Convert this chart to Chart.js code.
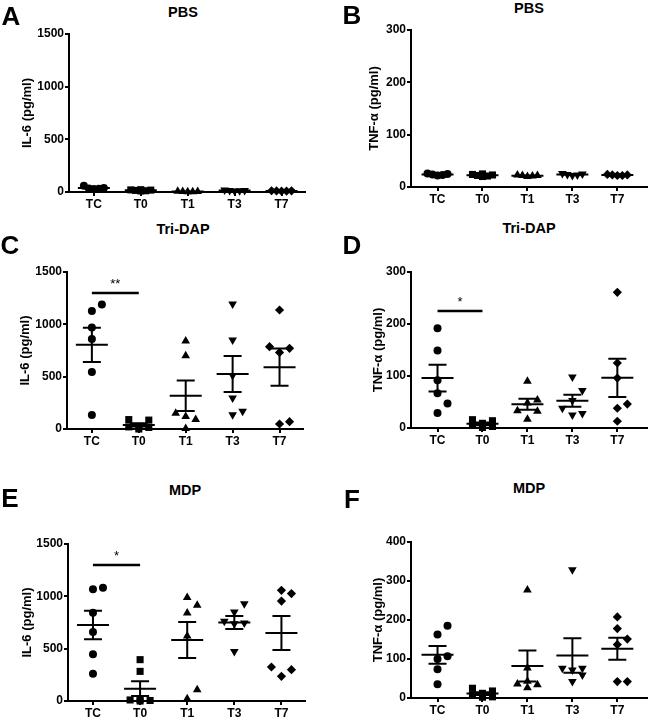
<!DOCTYPE html>
<html><head><meta charset="utf-8">
<script src="https://cdn.jsdelivr.net/npm/chart.js@4.4.1/dist/chart.umd.min.js"></script>
<style>
html,body{margin:0;padding:0;background:#fff;overflow:hidden;width:652px;height:718px;}
canvas{position:absolute;}
.lbl{position:absolute;font-family:"Liberation Sans",Arial,sans-serif;font-weight:bold;color:#000;transform:translate(-50%,-50%);line-height:1;white-space:nowrap;z-index:2;}
</style></head><body>
<script>
// ---------------- DATA ----------------
const categories = ['TC', 'T0', 'T1', 'T3', 'T7'];

// IL-6 (pg/ml), PBS  — one sub-array per category (TC, T0, T1, T3, T7)
const il6PBS = [[28, 34, 38, 30, 60], [20, 15, 18, 10, 22, 12], [5, 3, 6, 4, 2], [12, 15, 10, 18, 14], [10, 12, 8, 11, 9]];
// TNF-α (pg/ml), PBS
const tnfPBS = [[22, 23, 25, 24, 26], [20, 24, 25, 22, 23, 21], [21, 22, 20, 23, 22], [23, 24, 25, 22, 26], [22, 23, 22, 24, 23]];
// IL-6, Tri-DAP
const il6TriDAP = [[1190, 1127, 970, 860, 545, 134], [90, 85, 25, 20, 15, 0], [840, 700, 150, 120, 90, 5], [1195, 850, 295, 135, 170, 510], [1137, 771, 787, 732, 48, 70]];
// TNF-α, Tri-DAP
const tnfTriDAP = [[192, 149, 92, 67, 29, 47], [16, 14, 9, 5, 3, 1], [90, 54, 48, 32, 33, 17], [98, 72, 53, 38, 25, 28], [261, 125, 96, 46, 38, 13]];
// IL-6, MDP
const il6MDP = [[1067, 1083, 844, 659, 446, 261], [395, 283, 15, 10, 5, 0], [990, 914, 841, 621, 108, 22], [930, 850, 761, 745, 739, 474], [1026, 1057, 955, 325, 299, 236]];
// TNF-α, MDP
const tnfMDP = [[185, 163, 100, 107, 74, 35], [25, 18, 12, 8, 3, 2], [277, 77, 43, 36, 34, 26], [329, 76, 72, 76, 59, 42], [208, 178, 151, 137, 42, 42]];

// tick labels
const il6Ticks = [0, 500, 1000, 1500];
const tnfTicks = [0, 100, 200, 300];
const tnfMdpTicks = [0, 100, 200, 300, 400];

// significance brackets (between category indices, at a value, with label)
const sigC = { from: 0, to: 1, value: 1300, label: '**' };
const sigD = { from: 0, to: 1, value: 225, label: '*' };
const sigE = { from: 0, to: 1, value: 1300, label: '*' };

// ---------------- LAYOUT / STYLE ----------------
const FONT = '"Liberation Sans", Arial, sans-serif';
const pointStyles = ['circle', 'rect', 'triangle', 'triangle', 'rectRot'];
const pointRots = [0, 0, 0, 180, 0];
const pointRadii = [4, 5, 5, 5, 4.6];

const panels = [
  { letter: 'A', title: 'PBS', data: il6PBS, ticks: il6Ticks, yTitle: 'IL-6 (pg/ml)', col: 0, L: 69, R: 305, T: 34, B: 192, tX: 27, spacing: 5, steps: 2, sig: null, titlePos: [183, 12], letterPos: [11, 16] },
  { letter: 'B', title: 'PBS', data: tnfPBS, ticks: tnfTicks, yTitle: 'TNF-α (pg/ml)', col: 1, L: 411, R: 651, T: 30, B: 187, tX: 48, spacing: 5, steps: 2, sig: null, titlePos: [529, 8], letterPos: [352, 15] },
  { letter: 'C', title: 'Tri-DAP', data: il6TriDAP, ticks: il6Ticks, yTitle: 'IL-6 (pg/ml)', col: 0, L: 67, R: 303, T: 272, B: 429, tX: 25, spacing: 10, steps: 1, sig: sigC, titlePos: [183, 229], letterPos: [10, 245] },
  { letter: 'D', title: 'Tri-DAP', data: tnfTriDAP, ticks: tnfTicks, yTitle: 'TNF-α (pg/ml)', col: 1, L: 411, R: 651, T: 272, B: 428, tX: 52, spacing: 10, steps: 1, sig: sigD, titlePos: [529, 228], letterPos: [352, 245] },
  { letter: 'E', title: 'MDP', data: il6MDP, ticks: il6Ticks, yTitle: 'IL-6 (pg/ml)', col: 0, L: 68, R: 305, T: 544, B: 701, tX: 27, spacing: 10, steps: 1, sig: sigE, titlePos: [185, 490], letterPos: [10, 498] },
  { letter: 'F', title: 'MDP', data: tnfMDP, ticks: tnfMdpTicks, yTitle: 'TNF-α (pg/ml)', col: 1, L: 411, R: 651, T: 542, B: 698, tX: 52, spacing: 10, steps: 1, sig: null, titlePos: [529, 488], letterPos: [352, 499] }
];

function mean(a) { return a.reduce((s, v) => s + v, 0) / a.length; }
function sem(a) {
  const m = mean(a);
  const sd = Math.sqrt(a.reduce((s, v) => s + (v - m) * (v - m), 0) / (a.length - 1));
  return sd / Math.sqrt(a.length);
}

const statsPlugin = {
  id: 'stats',
  afterDatasetsDraw(chart, args, opts) {
    const { ctx } = chart;
    const xs = chart.scales.x, ys = chart.scales.y;
    ctx.save();
    ctx.strokeStyle = '#000';
    ctx.fillStyle = '#000';
    ctx.lineWidth = 2;
    opts.groups.forEach((vals, i) => {
      const m = mean(vals), se = sem(vals);
      const cx = xs.getPixelForValue(i);
      const ym = ys.getPixelForValue(m);
      const yt = ys.getPixelForValue(m + se);
      const yb = ys.getPixelForValue(Math.max(m - se, ys.min));
      ctx.beginPath();
      ctx.moveTo(cx - 16, ym); ctx.lineTo(cx + 16, ym);
      ctx.moveTo(cx, yt); ctx.lineTo(cx, yb);
      ctx.moveTo(cx - 9, yt); ctx.lineTo(cx + 9, yt);
      ctx.moveTo(cx - 9, yb); ctx.lineTo(cx + 9, yb);
      ctx.stroke();
    });
    const s = opts.sig;
    if (s) {
      const x1 = xs.getPixelForValue(s.from), x2 = xs.getPixelForValue(s.to);
      const yy = ys.getPixelForValue(s.value);
      ctx.lineWidth = 2.5;
      ctx.beginPath(); ctx.moveTo(x1, yy); ctx.lineTo(x2, yy); ctx.stroke();
      ctx.font = '13px ' + FONT;
      ctx.textAlign = 'center';
      ctx.textBaseline = 'middle';
      ctx.fillText(s.label, (x1 + x2) / 2, yy - 9);
    }
    ctx.restore();
  }
};

// scatter-dot "swarm": points close in value are set side by side (limited width)
function swarmOffsets(values, ys, pxPerX, spacing, steps) {
  const order = values.map((v, i) => i).sort((a, b) => values[a] - values[b]);
  const cands = [0];
  for (let k = 1; k <= steps; k++) { cands.push(k * spacing, -k * spacing); }
  const placed = [];
  const offs = new Array(values.length).fill(0);
  for (const idx of order) {
    const py = ys.getPixelForValue(values[idx]);
    let best = null, bestD = -1;
    for (const c of cands) {
      const d = placed.length ? Math.min(...placed.map(p => Math.hypot(p.px - c, p.py - py))) : Infinity;
      if (d >= spacing * 0.999) { best = c; break; }
      if (d > bestD + 0.5) { bestD = d; best = c; }
    }
    placed.push({ px: best, py });
    offs[idx] = best / pxPerX;
  }
  return offs;
}

panels.forEach(p => {
  const cLeft = p.col * 326, cW = 326;
  const topPad = 14, xH = 18;
  const cTop = p.T - topPad;
  const cH = (p.B - p.T) + topPad + xH;
  const cv = document.createElement('canvas');
  cv.style.left = cLeft + 'px'; cv.style.top = cTop + 'px';
  cv.style.width = cW + 'px'; cv.style.height = cH + 'px';
  cv.width = cW; cv.height = cH;
  document.body.appendChild(cv);

  const xmin = p.col === 0 ? -0.53 : -0.59;
  const xmax = p.col === 0 ? 4.5 : 4.66;
  const yTicks = p.ticks;

  const datasets = p.data.map((vals, i) => ({
    label: categories[i],
    data: vals.map(v => ({ x: i, y: v })),
    pointStyle: pointStyles[i],
    rotation: pointRots[i],
    pointRotation: pointRots[i],
    pointRadius: pointRadii[i],
    pointHoverRadius: pointRadii[i],
    backgroundColor: '#000',
    borderColor: '#000',
    borderWidth: 0,
    clip: false
  }));

  const chart = new Chart(cv, {
    type: 'scatter',
    data: { datasets },
    plugins: [statsPlugin],
    options: {
      responsive: false,
      animation: false,
      devicePixelRatio: 1,
      layout: { padding: { top: topPad, left: 0, right: cLeft + cW - p.R, bottom: 0 } },
      plugins: {
        legend: { display: false },
        tooltip: { enabled: false },
        title: { display: false },
        stats: { groups: p.data, sig: p.sig }
      },
      scales: {
        x: {
          type: 'linear', min: xmin, max: xmax,
          afterBuildTicks: s => { s.ticks = categories.map((c, i) => ({ value: i })); },
          afterFit: s => { s.height = xH; },
          ticks: {
            autoSkip: false, maxRotation: 0, padding: 1, color: '#000',
            font: { family: FONT, size: 12, weight: 'bold' },
            callback: (v, idx) => categories[idx]
          },
          grid: { display: true, drawOnChartArea: false, drawTicks: true, tickLength: 4, color: '#000', lineWidth: 2 },
          border: { display: true, color: '#000', width: 2 }
        },
        y: {
          type: 'linear', min: yTicks[0], max: yTicks[yTicks.length - 1],
          afterBuildTicks: s => { s.ticks = yTicks.map(v => ({ value: v })); },
          afterFit: s => { s.width = p.L - cLeft; },
          ticks: {
            padding: 1, color: '#000',
            font: { family: FONT, size: 12, weight: 'bold' },
            callback: v => String(v)
          },
          grid: { display: true, drawOnChartArea: false, drawTicks: true, tickLength: 4, color: '#000', lineWidth: 2 },
          border: { display: true, color: '#000', width: 2 },
          title: {
            display: true, text: p.yTitle, color: '#000',
            font: { family: FONT, size: 13, weight: 'bold' },
            padding: { top: p.tX - 7.8, bottom: 0 }
          }
        }
      }
    }
  });

  // arrange points of each group as a swarm, using the chart's own scales
  const xs = chart.scales.x, ys = chart.scales.y;
  const pxPerX = xs.getPixelForValue(1) - xs.getPixelForValue(0);
  chart.data.datasets.forEach((ds, i) => {
    const offs = swarmOffsets(p.data[i], ys, pxPerX, p.spacing, p.steps);
    ds.data = p.data[i].map((v, k) => ({ x: i + offs[k], y: v }));
  });
  chart.update('none');

  const t = document.createElement('div');
  t.className = 'lbl'; t.textContent = p.title;
  t.style.fontSize = '14.5px';
  t.style.left = p.titlePos[0] + 'px'; t.style.top = p.titlePos[1] + 'px';
  document.body.appendChild(t);

  const l = document.createElement('div');
  l.className = 'lbl'; l.textContent = p.letter;
  l.style.fontSize = '26px';
  l.style.left = p.letterPos[0] + 'px'; l.style.top = p.letterPos[1] + 'px';
  document.body.appendChild(l);
});
</script>
</body></html>
